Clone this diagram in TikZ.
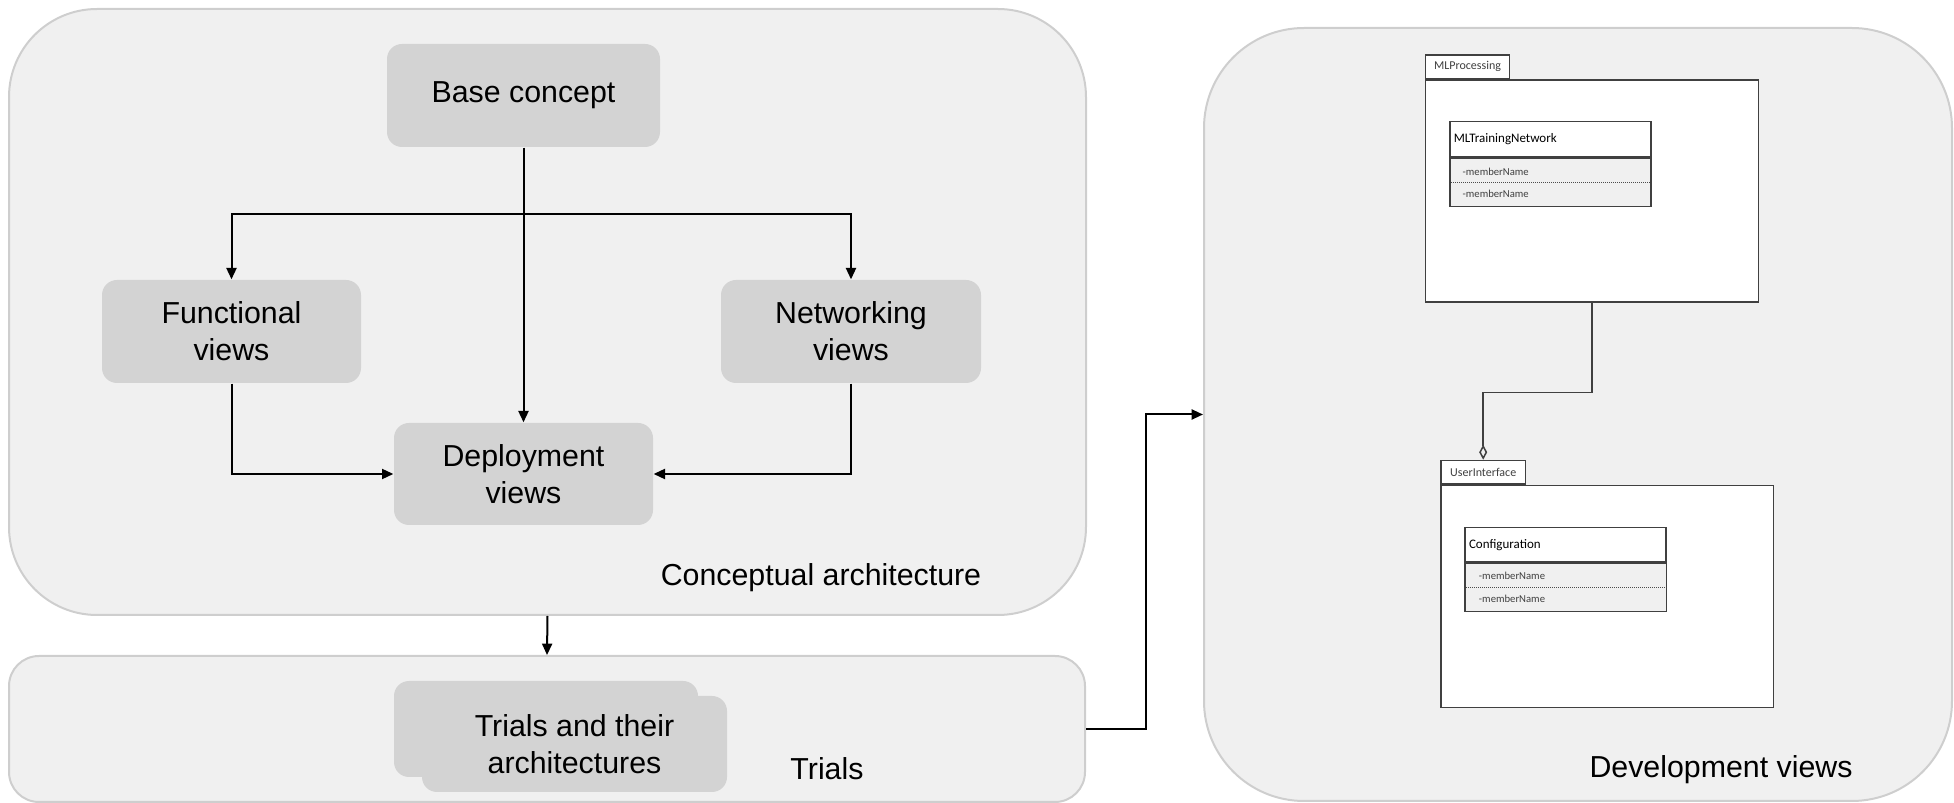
\documentclass[tikz,border=0pt]{standalone}
\usepackage{fontspec}
\setmainfont{Liberation Sans}
\newfontfamily\umlfont{Carlito}
\usepackage{tikz}
\usetikzlibrary{arrows.meta}

\definecolor{panelfill}{RGB}{240,240,240}
\definecolor{panelline}{RGB}{206,206,206}
\definecolor{viewfill}{RGB}{211,211,211}
\definecolor{umlline}{RGB}{64,64,64}

\tikzset{
panel/.style={draw=panelline,fill=panelfill,line width=0.6pt},
viewbox/.style={fill=viewfill,rounded corners=4.5pt,minimum width=77.7pt,minimum height=30.9pt,
  align=center,inner sep=0pt,font=\fontsize{9.1}{11.1}\selectfont},
paneltitle/.style={inner sep=0pt,font=\fontsize{9.1}{11.1}\selectfont},
link/.style={line width=0.6pt,-{Triangle[length=3.4pt,width=3pt]}},
pkgbody/.style={draw=umlline,fill=white,line width=0.45pt},
pkgtab/.style={draw=umlline,fill=white,line width=0.45pt,inner sep=0pt,text=umlline,
  font=\umlfont\fontsize{3.6}{4.3}\selectfont},
classhead/.style={draw=umlline,fill=white,line width=0.45pt,inner ysep=0pt,inner xsep=1.2pt,
  text width=57.9pt,align=left,font=\umlfont\fontsize{3.9}{4.7}\selectfont},
classattr/.style={draw=umlline,fill=panelfill,line width=0.45pt,inner sep=0pt},
member/.style={inner sep=0pt,anchor=west,text=umlline,font=\umlfont\fontsize{3.2}{3.8}\selectfont},
sepline/.style={draw=black!70,line width=0.25pt,dash pattern=on 0.25pt off 0.35pt},
aggregate/.style={draw=umlline,line width=0.45pt,-{Diamond[open,length=4.5pt,width=2.4pt]}}
}

\begin{document}
\begin{tikzpicture}[x=0.3pt,y=-0.3pt]
\useasboundingbox (0,0) rectangle (1954,803);

\node[panel,rounded corners=26.4pt,minimum width=323.1pt,minimum height=181.8pt] (concept) at (547.5,312) {};
\node[panel,rounded corners=9pt,minimum width=322.8pt,minimum height=43.8pt] (trials) at (547,729) {};
\node[panel,rounded corners=30pt,minimum width=224.4pt,minimum height=231.9pt] (dev) at (1578,414.5) {};

\node[viewbox,minimum width=81.9pt] (base) at (523.5,95.5) {Base concept};
\node[viewbox] (func) at (231.5,331.5) {Functional\\views};
\node[viewbox,minimum width=78pt] (net) at (851,331.5) {Networking\\views};
\node[viewbox,minimum height=30.6pt] (depl) at (523.5,474) {Deployment\\views};
\node[paneltitle] (conceptlabel) at (821,578) {Conceptual architecture};

\node[viewbox,minimum width=91.2pt,minimum height=28.8pt] (trialback) at (546,729) {};
\node[viewbox,minimum width=91.5pt,minimum height=28.8pt] (trialfront) at (574.5,744) {Trials and their\\architectures};
\node[paneltitle] (trialslabel) at (827,769) {Trials};

\node[paneltitle] (devlabel) at (1721,770) {Development views};

\coordinate (split) at (523.5,214);
\draw[link] (base.south) -- (depl.north);
\draw[link] (split) -| (func.north);
\draw[link] (split) -| (net.north);
\draw[link] (func.south) |- (depl.west);
\draw[link] (net.south) |- (depl.east);
\draw[link] (concept.south) -- (trials.north);
\draw[link] (trials.east) -- ++(60,0) |- (dev.west);

\node[pkgbody,minimum width=99.8pt,minimum height=66.6pt] (mlproc) at (1592,191) {};
\node[pkgtab,anchor=south west,minimum width=25.1pt,minimum height=7pt] (mlproctab) at (mlproc.north west) {MLProcessing};
\node[classhead,anchor=north west,minimum height=10.6pt] (mltrain) at (1449,120.7) {MLTrainingNetwork};
\node[classattr,anchor=north west,minimum width=60.3pt,minimum height=14.5pt] (mltrainattr) at (mltrain.south west) {};
\draw[sepline] ([xshift=0.6pt]mltrainattr.west) -- ([xshift=-0.6pt]mltrainattr.east);
\node[member] (mltrainfirst) at ([xshift=3.9pt,yshift=3.3pt]mltrainattr.west) {-memberName};
\node[member] (mltrainsecond) at ([xshift=3.9pt,yshift=-3.3pt]mltrainattr.west) {-memberName};

\node[pkgbody,minimum width=99.7pt,minimum height=66.5pt] (ui) at (1607.2,596.5) {};
\node[pkgtab,anchor=south west,minimum width=25.3pt,minimum height=7.1pt] (uitab) at (ui.north west) {UserInterface};
\node[classhead,anchor=north west,minimum height=10.4pt] (config) at (1464.3,526.7) {Configuration};
\node[classattr,anchor=north west,minimum width=60.4pt,minimum height=14.4pt] (configattr) at (config.south west) {};
\draw[sepline] ([xshift=0.6pt]configattr.west) -- ([xshift=-0.6pt]configattr.east);
\node[member] (configfirst) at ([xshift=4.2pt,yshift=3.5pt]configattr.west) {-memberName};
\node[member] (configsecond) at ([xshift=4.2pt,yshift=-3.5pt]configattr.west) {-memberName};

\draw[aggregate] (mlproc.south) -- ++(0,90) -| (uitab.north);
\end{tikzpicture}
\end{document}
